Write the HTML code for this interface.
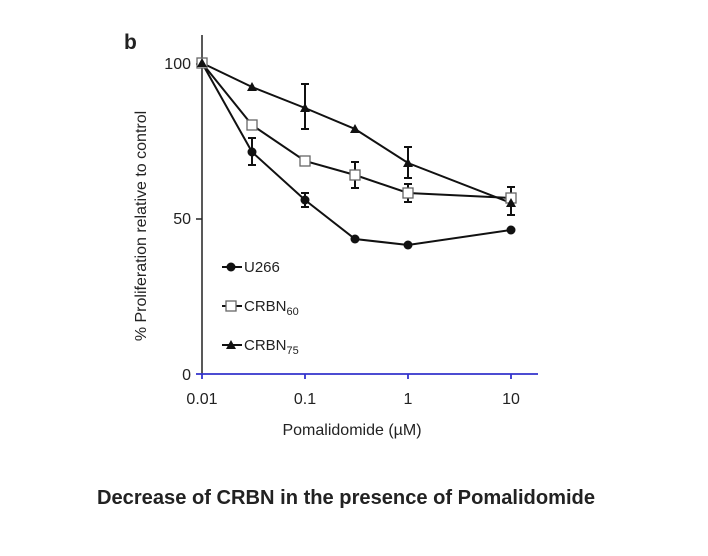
<!DOCTYPE html>
<html><head><meta charset="utf-8"><style>
html,body{margin:0;padding:0;background:#fff;width:708px;height:556px;overflow:hidden}
svg{display:block}
text{font-family:"Liberation Sans",Arial,sans-serif;fill:#222}
</style></head><body>
<svg width="708" height="556" viewBox="0 0 708 556">
<text x="124" y="49" font-size="21" font-weight="bold" fill="#111">b</text>
<line x1="202" y1="35" x2="202" y2="375" stroke="#222" stroke-width="1.5"/>
<line x1="196" y1="64" x2="202" y2="64" stroke="#222" stroke-width="1.5"/>
<line x1="196" y1="219" x2="202" y2="219" stroke="#222" stroke-width="1.5"/>
<line x1="196" y1="374" x2="538" y2="374" stroke="#3333cc" stroke-width="1.8"/>
<g stroke="#3333cc" stroke-width="1.8">
<line x1="202" y1="374" x2="202" y2="379"/><line x1="305" y1="374" x2="305" y2="379"/>
<line x1="408" y1="374" x2="408" y2="379"/><line x1="511" y1="374" x2="511" y2="379"/>
</g>
<g font-size="16" text-anchor="end">
<text x="191" y="69">100</text><text x="191" y="224">50</text><text x="191" y="380">0</text>
</g>
<g font-size="16" text-anchor="middle">
<text x="202" y="404">0.01</text><text x="305" y="404">0.1</text><text x="408" y="404">1</text><text x="511" y="404">10</text>
<text x="352" y="435">Pomalidomide (µM)</text>
</g>
<text transform="translate(146,226) rotate(-90)" font-size="16" text-anchor="middle">% Proliferation relative to control</text>
<g stroke="#111" stroke-width="2" fill="none">
<polyline points="202,63 252,152 305,200 355,239 408,245 511,230"/>
<polyline points="202,63 252,125 305,161 355,175 408,193 511,198"/>
<polyline points="202,63 252,87 305,108 355,129 408,163 511,203"/>
<path d="M252,138V165M248,138H256M248,165H256"/>
<path d="M305,193V207M301,193H309M301,207H309"/>
<path d="M355,162V188M351,162H359M351,188H359"/>
<path d="M408,184V202M404,184H412M404,202H412"/>
<path d="M305,84V129M301,84H309M301,129H309"/>
<path d="M408,147V178M404,147H412M404,178H412"/>
<path d="M511,187V215M507,187H515M507,215H515"/>
</g>
<g fill="#111">
<circle cx="252" cy="152" r="4.5"/><circle cx="305" cy="200" r="4.5"/><circle cx="355" cy="239" r="4.5"/><circle cx="408" cy="245" r="4.5"/><circle cx="511" cy="230" r="4.5"/>
</g>
<g fill="#fff" stroke="#666" stroke-width="1.3">
<rect x="197" y="58" width="10" height="10"/><rect x="247" y="120" width="10" height="10"/><rect x="300" y="156" width="10" height="10"/><rect x="350" y="170" width="10" height="10"/><rect x="403" y="188" width="10" height="10"/><rect x="506" y="193" width="10" height="10"/>
</g>
<g fill="#111">
<path d="M202,58l5,9h-10z"/><path d="M252,82l5,9h-10z"/><path d="M305,103l5,9h-10z"/><path d="M355,124l5,9h-10z"/><path d="M408,158l5,9h-10z"/><path d="M511,198l5,9h-10z"/>
</g>
<line x1="222" y1="267" x2="242" y2="267" stroke="#111" stroke-width="2"/>
<circle cx="231" cy="267" r="4.5" fill="#111"/>
<text x="244" y="272" font-size="15">U266</text>
<line x1="222" y1="306" x2="242" y2="306" stroke="#111" stroke-width="2"/>
<rect x="226" y="301" width="10" height="10" fill="#fff" stroke="#666" stroke-width="1.3"/>
<text x="244" y="311" font-size="15">CRBN<tspan font-size="11" dy="4">60</tspan></text>
<line x1="222" y1="345" x2="242" y2="345" stroke="#111" stroke-width="2"/>
<path d="M231,340l5,9h-10z" fill="#111"/>
<text x="244" y="350" font-size="15">CRBN<tspan font-size="11" dy="4">75</tspan></text>
<text x="97" y="504" font-size="20" font-weight="bold" fill="#000" textLength="498" lengthAdjust="spacingAndGlyphs">Decrease of CRBN in the presence of Pomalidomide</text>
</svg>
</body></html>
